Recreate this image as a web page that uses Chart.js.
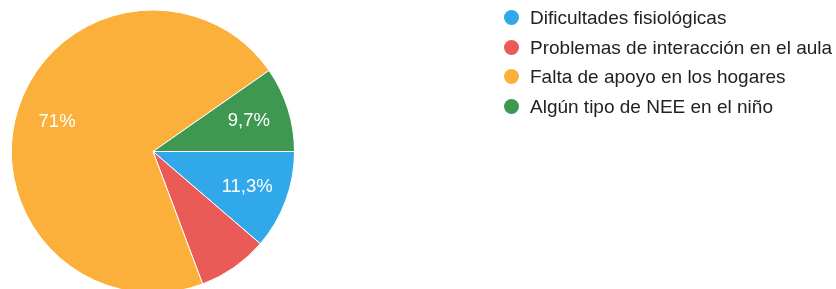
<!DOCTYPE html>
<html>
<head>
<meta charset="utf-8">
<script src="https://cdn.jsdelivr.net/npm/chart.js@4"></script>
<style>
    html, body { margin: 0; padding: 0; background: #fff; overflow: hidden; }
    #wrap { position: relative; width: 836px; height: 289px; }
    #pie { position: absolute; left: 0; top: 0; }
    #legend { position: absolute; left: 504px; top: 5px; margin: 0; padding: 0; list-style: none;
        font-family: Arial, "Liberation Sans", sans-serif; font-size: 19px; color: #222; }
    #legend li { height: 29.5px; line-height: 26px; white-space: nowrap; }
    #legend span { display: inline-block; width: 15px; height: 15px; border-radius: 50%;
        margin-right: 11px; vertical-align: -1px; }
</style>
</head>
<body>
<div id="wrap">
    <canvas id="pie" width="836" height="294"></canvas>
    <ul id="legend"></ul>
</div>
<script>
const categories = ['Dificultades fisiológicas', 'Problemas de interacción en el aula', 'Falta de apoyo en los hogares', 'Algún tipo de NEE en el niño'];
const percentages = [11.3, 8.0, 71.0, 9.7];
const sliceLabels = ['11,3%', '', '71%', '9,7%'];
const colors = ['#31a8e9', '#ea5a56', '#fbb03b', '#3e9852'];

const legend = document.getElementById('legend');
categories.forEach(function (name, i) {
    const li = document.createElement('li');
    const dot = document.createElement('span');
    dot.style.background = colors[i];
    li.appendChild(dot);
    li.appendChild(document.createTextNode(name));
    legend.appendChild(li);
});

// percentage text inside the slices
const sliceText = {
    id: 'sliceText',
    afterDatasetsDraw(chart) {
        const ctx = chart.ctx;
        const meta = chart.getDatasetMeta(0);
        ctx.save();
        ctx.font = '18.5px Arial, "Liberation Sans", sans-serif';
        ctx.fillStyle = '#ffffff';
        ctx.textAlign = 'center';
        ctx.textBaseline = 'middle';
        meta.data.forEach(function (arc, i) {
            if (!sliceLabels[i]) return;
            const p = arc.getProps(['x', 'y', 'startAngle', 'endAngle', 'outerRadius']);
            const mid = (p.startAngle + p.endAngle) / 2;
            const r = p.outerRadius * 0.71;
            ctx.fillText(sliceLabels[i], p.x + Math.cos(mid) * r, p.y + Math.sin(mid) * r);
        });
        ctx.restore();
    }
};

new Chart(document.getElementById('pie').getContext('2d'), {
    type: 'pie',
    data: {
        labels: categories,
        datasets: [{
            data: percentages,
            backgroundColor: colors,
            borderColor: '#ffffff',
            borderWidth: 1
        }]
    },
    options: {
        responsive: false,
        animation: false,
        rotation: 90,
        layout: { padding: { left: 11, top: 9, right: 541, bottom: 0 } },
        plugins: {
            legend: { display: false },
            tooltip: { enabled: false }
        }
    },
    plugins: [sliceText]
});
</script>
</body>
</html>
